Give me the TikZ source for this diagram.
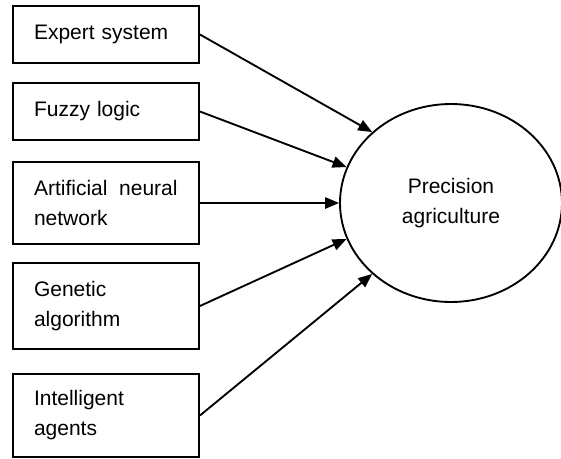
\documentclass[tikz,border=0pt]{standalone}
\usepackage{fontspec}
\setmainfont{Liberation Sans}
\usetikzlibrary{arrows.meta,shapes.geometric}

\begin{document}
\begin{tikzpicture}[x=0.75pt, y=-0.75pt, line width=1.4pt,
		box/.style={draw, rectangle, text width=108pt, inner xsep=15.75pt, inner ysep=0pt, align=left,
			font=\fontsize{15.75pt}{22.5pt}\selectfont},
		goal/.style={draw, ellipse, inner sep=0pt, minimum width=166.5pt, minimum height=148.5pt, align=center,
			font=\fontsize{15.75pt}{22.5pt}\selectfont},
		arr/.style={-{Triangle[length=10.5pt, width=8.5pt]}}]
	\useasboundingbox (0, 0) rectangle (561, 458);

	\node[box, minimum height=42.75pt] (es) at (106, 34.5) {Expert system};
	\node[box, minimum height=42.75pt] (fl) at (106, 111.5) {Fuzzy logic};
	\node[box, minimum height=61.5pt] (ann) at (106, 203) {\mbox{Artificial\hspace{3.5pt} neural}\\network};
	\node[box, minimum height=64.5pt] (ga) at (106, 306) {Genetic\\algorithm};
	\node[box, minimum height=62.25pt] (ia) at (106, 415.5) {Intelligent\\agents};

	\node[goal] (pa) at (451, 203) {Precision\\agriculture};

	\foreach \src/\ang in {es/138, fl/161, ann/180, ga/199, ia/222} \draw[arr] (\src.east) -- (pa.\ang);
\end{tikzpicture}
\end{document}
